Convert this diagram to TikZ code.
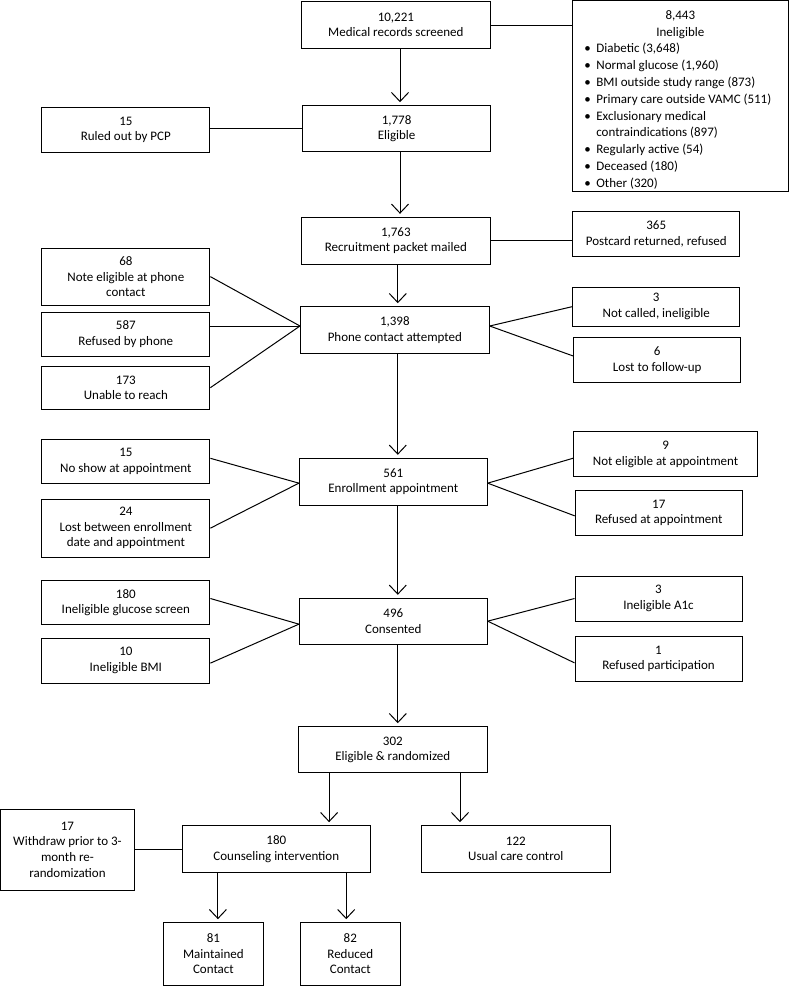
\documentclass[tikz,border=0pt]{standalone}
\usepackage{fontspec}
\setmainfont{Carlito}
\usetikzlibrary{arrows.meta}
\newcommand\bx[6]{\node[box, minimum width={(#4-#2)*1pt}, minimum height={(#5-#3)*1pt}] (#1) at ({(#2+#4)/2},{(#3+#5)/2}) {#6};}
\begin{document}
\begin{tikzpicture}[x=1pt,y=-1pt,
  box/.style={draw, line width=1pt, align=center, inner sep=0pt, font=\fontsize{13}{15.6}\selectfont},
  arr/.style={line width=1pt, -{Straight Barb[length=9pt,width=17pt]}, shorten >=3pt},
  ln/.style={line width=1pt}]
\useasboundingbox (0,0) rectangle (789,986);
% centre column
\bx{med}{301}{1.7}{490.7}{48.3}{10,221\\Medical records screened}
\bx{elig}{302.5}{105.7}{490.7}{151.7}{1,778\\Eligible}
\bx{rec}{301}{217.3}{490.7}{264}{1,763\\Recruitment packet mailed}
\bx{phone}{300.5}{306.7}{489.2}{353.3}{1,398\\Phone contact attempted}
\bx{enr}{299.4}{458.3}{487.2}{505}{561\\Enrollment appointment}
\bx{cons}{299.4}{598.3}{487.2}{644}{496\\Consented}
\bx{rand}{298.4}{726.7}{487.2}{772.7}{302\\Eligible \& randomized}
\bx{couns}{182.2}{825.7}{370.4}{872.3}{180\\Counseling intervention}
\bx{usual}{421.7}{825.7}{610}{872.3}{122\\Usual care control}
\bx{wd}{0.5}{809.3}{134.4}{890}{17\\Withdraw prior to 3-\\month re-\\randomization}
\bx{m81}{163.6}{922.7}{263.2}{985}{81\\Maintained\\Contact}
\bx{r82}{300.5}{922.7}{400.1}{985}{82\\Reduced\\Contact}
% left column
\bx{rpcp}{41.8}{107.3}{209.9}{152.3}{15\\Ruled out by PCP}
\bx{ne68}{41.8}{248.3}{209.9}{305}{68\\Note eligible at phone\\contact}
\bx{rf587}{41.8}{312.3}{209.9}{356}{587\\Refused by phone}
\bx{un173}{41.8}{366}{209.9}{409.3}{173\\Unable to reach}
\bx{ns15}{41.8}{439.3}{209.9}{483.3}{15\\No show at appointment}
\bx{lb24}{41.8}{499}{209.9}{557.3}{24\\Lost between enrollment\\date and appointment}
\bx{ig180}{41.8}{580.7}{209.9}{624.3}{180\\Ineligible glucose screen}
\bx{ib10}{41.8}{638.3}{209.9}{683}{10\\Ineligible BMI}
% right column
\bx{pc365}{572.7}{211.7}{739.8}{256.7}{365\\Postcard returned, refused}
\bx{nc3}{572.7}{287.3}{739.8}{326}{3\\Not called, ineligible}
\bx{lf6}{573.7}{337.3}{740.8}{382.7}{6\\Lost to follow-up}
\bx{ne9}{573.7}{431.7}{757.4}{476.7}{9\\Not eligible at appointment}
\bx{ra17}{575.2}{490}{742.3}{535.7}{17\\Refused at appointment}
\bx{a1c3}{575}{576}{742}{621}{3\\Ineligible A1c}
\bx{rp1}{575}{636.7}{742}{681}{1\\Refused participation}
\node[box, minimum width=215.3pt, minimum height=191.7pt] (inel) at (680.35,95.85)
 {\raisebox{-4pt}[\height][\depth]{\fontsize{13}{16.8}\selectfont
  \begin{tabular}{@{}p{12pt}@{}p{180pt}@{}}
  \multicolumn{2}{@{}c@{}}{8,443}\\
  \multicolumn{2}{@{}c@{}}{Ineligible}\\
  \textbullet & Diabetic (3,648)\\
  \textbullet & Normal glucose (1,960)\\
  \textbullet & BMI outside study range (873)\\
  \textbullet & Primary care outside VAMC (511)\\
  \textbullet & Exclusionary medical\\
   & contraindications (897)\\
  \textbullet & Regularly active (54)\\
  \textbullet & Deceased (180)\\
  \textbullet & Other (320)
  \end{tabular}}};
% arrow x positions
\coordinate (c1) at (400,0);
\coordinate (c2) at (397.8,0);
\coordinate (c3) at (329.1,0);
\coordinate (c4) at (460,0);
\coordinate (c5) at (217.9,0);
\coordinate (c6) at (346.2,0);
\draw[arr] (med.south -| c1) -- (elig.north -| c1);
\draw[arr] (elig.south -| c1) -- (rec.north -| c1);
\draw[arr] (rec.south -| c2) -- (phone.north -| c2);
\draw[arr] (phone.south -| c2) -- (enr.north -| c2);
\draw[arr] (enr.south -| c2) -- (cons.north -| c2);
\draw[arr] (cons.south -| c2) -- (rand.north -| c2);
\draw[arr] (rand.south -| c3) -- (couns.north -| c3);
\draw[arr] (rand.south -| c4) -- (usual.north -| c4);
\draw[arr] (couns.south -| c5) -- (m81.north -| c5);
\draw[arr] (couns.south -| c6) -- (r82.north -| c6);
% side connectors
\draw[ln] (med.east) -- (med.east -| inel.west);
\draw[ln] (elig.west) -- (elig.west -| rpcp.east);
\draw[ln] (rec.east) -- (rec.east -| pc365.west);
\draw[ln] (couns.west) -- (couns.west -| wd.east);
\coordinate (pl) at ([yshift=4pt]phone.west);
\coordinate (pr) at ([yshift=4pt]phone.east);
\draw[ln] (ne68.east) -- (pl);
\draw[ln] (pl -| rf587.east) -- (pl);
\draw[ln] (un173.east) -- (pl);
\draw[ln] (pr) -- (nc3.west);
\draw[ln] (pr) -- ([yshift=4pt]lf6.west);
\coordinate (el) at ([yshift=-1.5pt]enr.west);
\coordinate (er) at ([yshift=-1.5pt]enr.east);
\draw[ln] ([yshift=3pt]ns15.east) -- (el);
\draw[ln] (lb24.east) -- (el);
\draw[ln] (er) -- ([yshift=-4pt]ne9.west);
\draw[ln] (er) -- ([yshift=-3pt]ra17.west);
\coordinate (cl) at ([yshift=-3pt]cons.west);
\draw[ln] ([yshift=4pt]ig180.east) -- (cl);
\draw[ln] ([yshift=-2.5pt]ib10.east) -- (cl);
\draw[ln] (cons.east) -- (a1c3.west);
\draw[ln] (cons.east) -- ([yshift=-4pt]rp1.west);
\end{tikzpicture}
\end{document}
